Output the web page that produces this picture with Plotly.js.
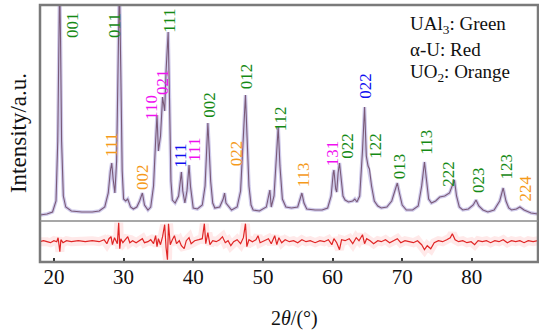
<!DOCTYPE html>
<html>
<head>
<meta charset="utf-8">
<script src="https://cdn.plot.ly/plotly-3.0.1.min.js"></script>
<style>html,body{margin:0;padding:0;background:#fff;}#chart{width:539px;height:336px;}</style>
</head>
<body>
<div id="chart"></div>
<script>
// Main XRD pattern (2θ, intensity in arbitrary units)
var twoTheta = [18.0,19.0,19.8,20.3,20.55,20.7,20.82,20.95,21.1,21.35,21.7,22.5,24,25.5,26.5,27.3,27.8,28.1,28.3,28.5,28.75,29.0,29.2,29.4,29.6,29.8,30.0,30.3,30.6,31.0,31.4,31.9,32.3,32.7,33.0,33.5,33.9,34.3,34.6,34.8,35.0,35.3,35.6,35.9,36.1,36.4,36.6,36.8,37.0,37.4,37.9,38.2,38.3,38.5,38.8,39.1,39.4,39.6,40.0,40.6,41.3,41.7,41.95,42.1,42.3,42.5,42.8,43.1,43.8,44.3,44.5,44.7,45.5,46.3,46.8,47.2,47.5,47.75,48.0,48.3,48.6,49.5,50.5,51.0,51.2,51.6,51.9,52.2,52.45,52.8,53.3,54.1,55.0,55.3,55.6,55.9,56.3,57.5,58.5,59.3,59.8,60.1,60.2,60.45,60.6,60.8,61.0,61.2,61.5,61.8,62.3,62.9,63.2,63.5,63.9,64.3,64.6,64.85,65.1,65.3,65.6,66.0,66.5,67.0,67.8,68.5,69.0,69.3,69.6,70.0,70.6,71.5,72.3,72.8,73.2,73.5,73.8,74.2,74.8,75.4,76.1,76.8,77.2,77.5,77.8,78.2,78.7,79.5,80.2,80.6,81.0,81.6,82.3,83.2,84.0,84.5,84.9,85.3,85.7,86.4,86.9,87.5,88.5,89.5];
var intensity = [6,7,9,20,80,180,240,180,80,25,14,10,9,9,10,14,28,50,58,42,28,60,160,240,150,50,22,20,22,14,12,14,20,28,16,11,14,35,80,106,70,85,124,110,150,189,120,40,21,18,25,45,49,30,18,30,56,35,13,12,16,35,80,98,70,40,18,13,14,22,28,18,11,14,30,80,126,80,35,16,11,10,14,31,14,25,60,94,55,22,14,13,14,20,28,18,12,11,11,13,25,48,51,32,29,48,58,45,25,21,19,20,22,19,25,70,114,65,55,52,35,20,15,13,14,20,32,38,28,16,11,11,15,35,59,40,22,18,20,24,25,28,35,41,25,14,11,12,16,21,15,11,9,11,20,33,20,13,11,12,14,11,8,7];

// Difference (residual) curve
var resTheta = [18.0,18.5,19.0,19.5,20.0,20.4,20.6,20.75,20.85,21.0,21.3,21.8,22.5,23.5,24.5,25.5,26.5,27.2,27.6,27.9,28.2,28.4,28.7,29.1,29.3,29.45,29.6,29.9,30.2,30.6,30.9,31.3,31.8,32.3,32.7,33.0,33.5,33.9,34.3,34.6,34.8,35.0,35.3,35.6,35.9,36.1,36.3,36.45,36.7,37.0,37.3,37.6,38.0,38.3,38.7,39.0,39.4,39.7,40.2,40.8,41.3,41.6,41.8,42.1,42.4,42.8,43.3,43.8,44.2,44.6,45.0,45.4,45.8,46.3,46.8,47.2,47.5,47.7,48.0,48.5,49.0,49.3,49.6,50.2,50.8,51.2,51.7,52.0,52.3,52.7,53.2,53.8,54.4,55.0,55.6,56.2,56.8,57.5,58.2,58.8,59.4,59.9,60.2,60.6,61.0,61.3,61.8,62.4,62.9,63.4,63.8,64.3,64.6,64.9,65.4,65.9,66.5,67.0,67.6,68.2,68.8,69.3,69.8,70.4,71.0,71.6,72.2,72.8,73.2,73.6,74.1,74.6,75.2,75.8,76.4,76.9,77.2,77.6,78.1,78.7,79.3,79.9,80.4,80.9,81.5,82.1,82.7,83.3,83.9,84.5,85.1,85.7,86.3,86.9,87.5,88.1,88.8,89.5];
var residual = [0,1,0,-1,1,0,4,-3,-10,2,-1,1,0,1,0,1,0,2,-2,3,5,-3,4,-2,19,-7,3,-1,2,5,-1,1,-1,1,3,-1,0,2,-2,6,-5,3,-3,5,17,-6,-18,18,-3,2,6,-2,1,-4,-7,1,4,-2,1,2,3,18,-2,9,-3,1,0,2,5,-1,1,-4,0,2,-2,4,18,-5,2,0,2,6,-1,1,3,-2,6,-3,4,-1,2,0,1,-1,2,0,1,-1,1,0,2,-3,3,-1,-8,2,1,3,-2,4,1,7,-2,3,1,-2,1,0,2,-1,1,3,-1,1,0,-1,1,-3,-8,-4,-7,-1,1,0,2,4,8,2,0,1,-1,0,-3,1,0,1,-1,1,0,2,-1,1,0,1,-1,1,0,1];

// Peak indices
var labelText  = ["001","011","111","002","110","021","111","111","111","002","022","012","112","113","131","022","022","122","013","113","222","023","123","224"];
var labelPhase = ["G","G","O","O","M","M","G","B","M","G","O","G","G","O","M","G","B","G","G","G","G","G","G","O"];
var labelX     = [22.68,28.61,28.18,32.70,33.92,35.50,36.50,38.08,40.09,42.24,46.18,47.62,52.57,55.80,60.03,62.04,64.62,66.05,69.57,73.44,76.60,80.90,84.92,87.57];
var labelY     = [195.5,196,76,44.5,114,139,200,65,71,116,68,145,102.5,46,67.5,75,135,75,55,78.5,47.5,41,54.5,32];

// Phase key
var keyText = ["UAl<sub>3</sub>: Green","α-U: Red","UO<sub>2</sub>: Orange"];
var keyY = [196,172,148];

var xTicks = [20,30,40,50,60,70,80];

var phaseColor = {G:"#158a15", O:"#f59a1a", M:"#f010f0", B:"#1010f0"};
var serif = "Liberation Serif, Times New Roman, serif";

var traces = [
  {x: twoTheta, y: intensity, xaxis:"x", yaxis:"y", mode:"lines", line:{color:"rgba(150,140,210,0.45)", width:3.5}, hoverinfo:"skip"},
  {x: twoTheta, y: intensity, xaxis:"x", yaxis:"y", mode:"lines", line:{color:"#7a5a78", width:1.1}},
  {x: resTheta, y: residual, xaxis:"x", yaxis:"y2", mode:"lines", line:{color:"rgba(255,120,120,0.16)", width:9}, hoverinfo:"skip"},
  {x: resTheta, y: residual, xaxis:"x", yaxis:"y2", mode:"lines", line:{color:"#e02525", width:1.2}}
];

var split = 41/257;
var annotations = [];
for (var i = 0; i < labelText.length; i++) {
  annotations.push({x: labelX[i], y: labelY[i], xref:"x", yref:"y", text: labelText[i], showarrow:false,
    textangle:-90, xanchor:"center", yanchor:"middle", font:{family:serif, size:17, color: phaseColor[labelPhase[i]]}});
}
for (var k = 0; k < keyText.length; k++) {
  annotations.push({x: 70.79, y: keyY[k], xref:"x", yref:"y", text: keyText[k], showarrow:false,
    xanchor:"left", yanchor:"middle", font:{family:serif, size:19, color:"#111"}});
}
annotations.push({x: -0.042, y: 0.502, xref:"paper", yref:"paper", text:"Intensity/a.u.", showarrow:false,
  textangle:-90, xanchor:"center", yanchor:"middle", font:{family:serif, size:23, color:"#111"}});
annotations.push({x: 0.512, y: -0.218, xref:"paper", yref:"paper", text:"2<i>θ</i>/(°)", showarrow:false,
  xanchor:"center", yanchor:"middle", font:{family:serif, size:20, color:"#111"}});

var layout = {
  width:539, height:336,
  margin:{l:40, r:1, t:5, b:74},
  paper_bgcolor:"#fff", plot_bgcolor:"#fff",
  showlegend:false,
  xaxis:{range:[18,89.5], anchor:"y2", tickvals:xTicks, ticktext:xTicks.map(String), ticks:"inside", ticklen:4, tickwidth:2, tickcolor:"#333",
    showgrid:false, zeroline:false, showline:false, tickfont:{family:serif, size:21, color:"#111"}},
  yaxis:{domain:[split,1], range:[0,216], showticklabels:false, showgrid:false, zeroline:false, ticks:""},
  yaxis2:{domain:[0,split], range:[-20.3,20.7], showticklabels:false, showgrid:false, zeroline:false, ticks:""},
  shapes:[
    {type:"rect", xref:"paper", yref:"paper", x0:0, x1:1, y0:0, y1:1, line:{color:"#7a7a7a", width:2.5}},
    {type:"line", xref:"paper", yref:"paper", x0:0, x1:1, y0:split, y1:split, line:{color:"#8a8a8a", width:1.5}}
  ],
  annotations: annotations
};

Plotly.newPlot("chart", traces, layout, {displayModeBar:false, staticPlot:true});
</script>
</body>
</html>
